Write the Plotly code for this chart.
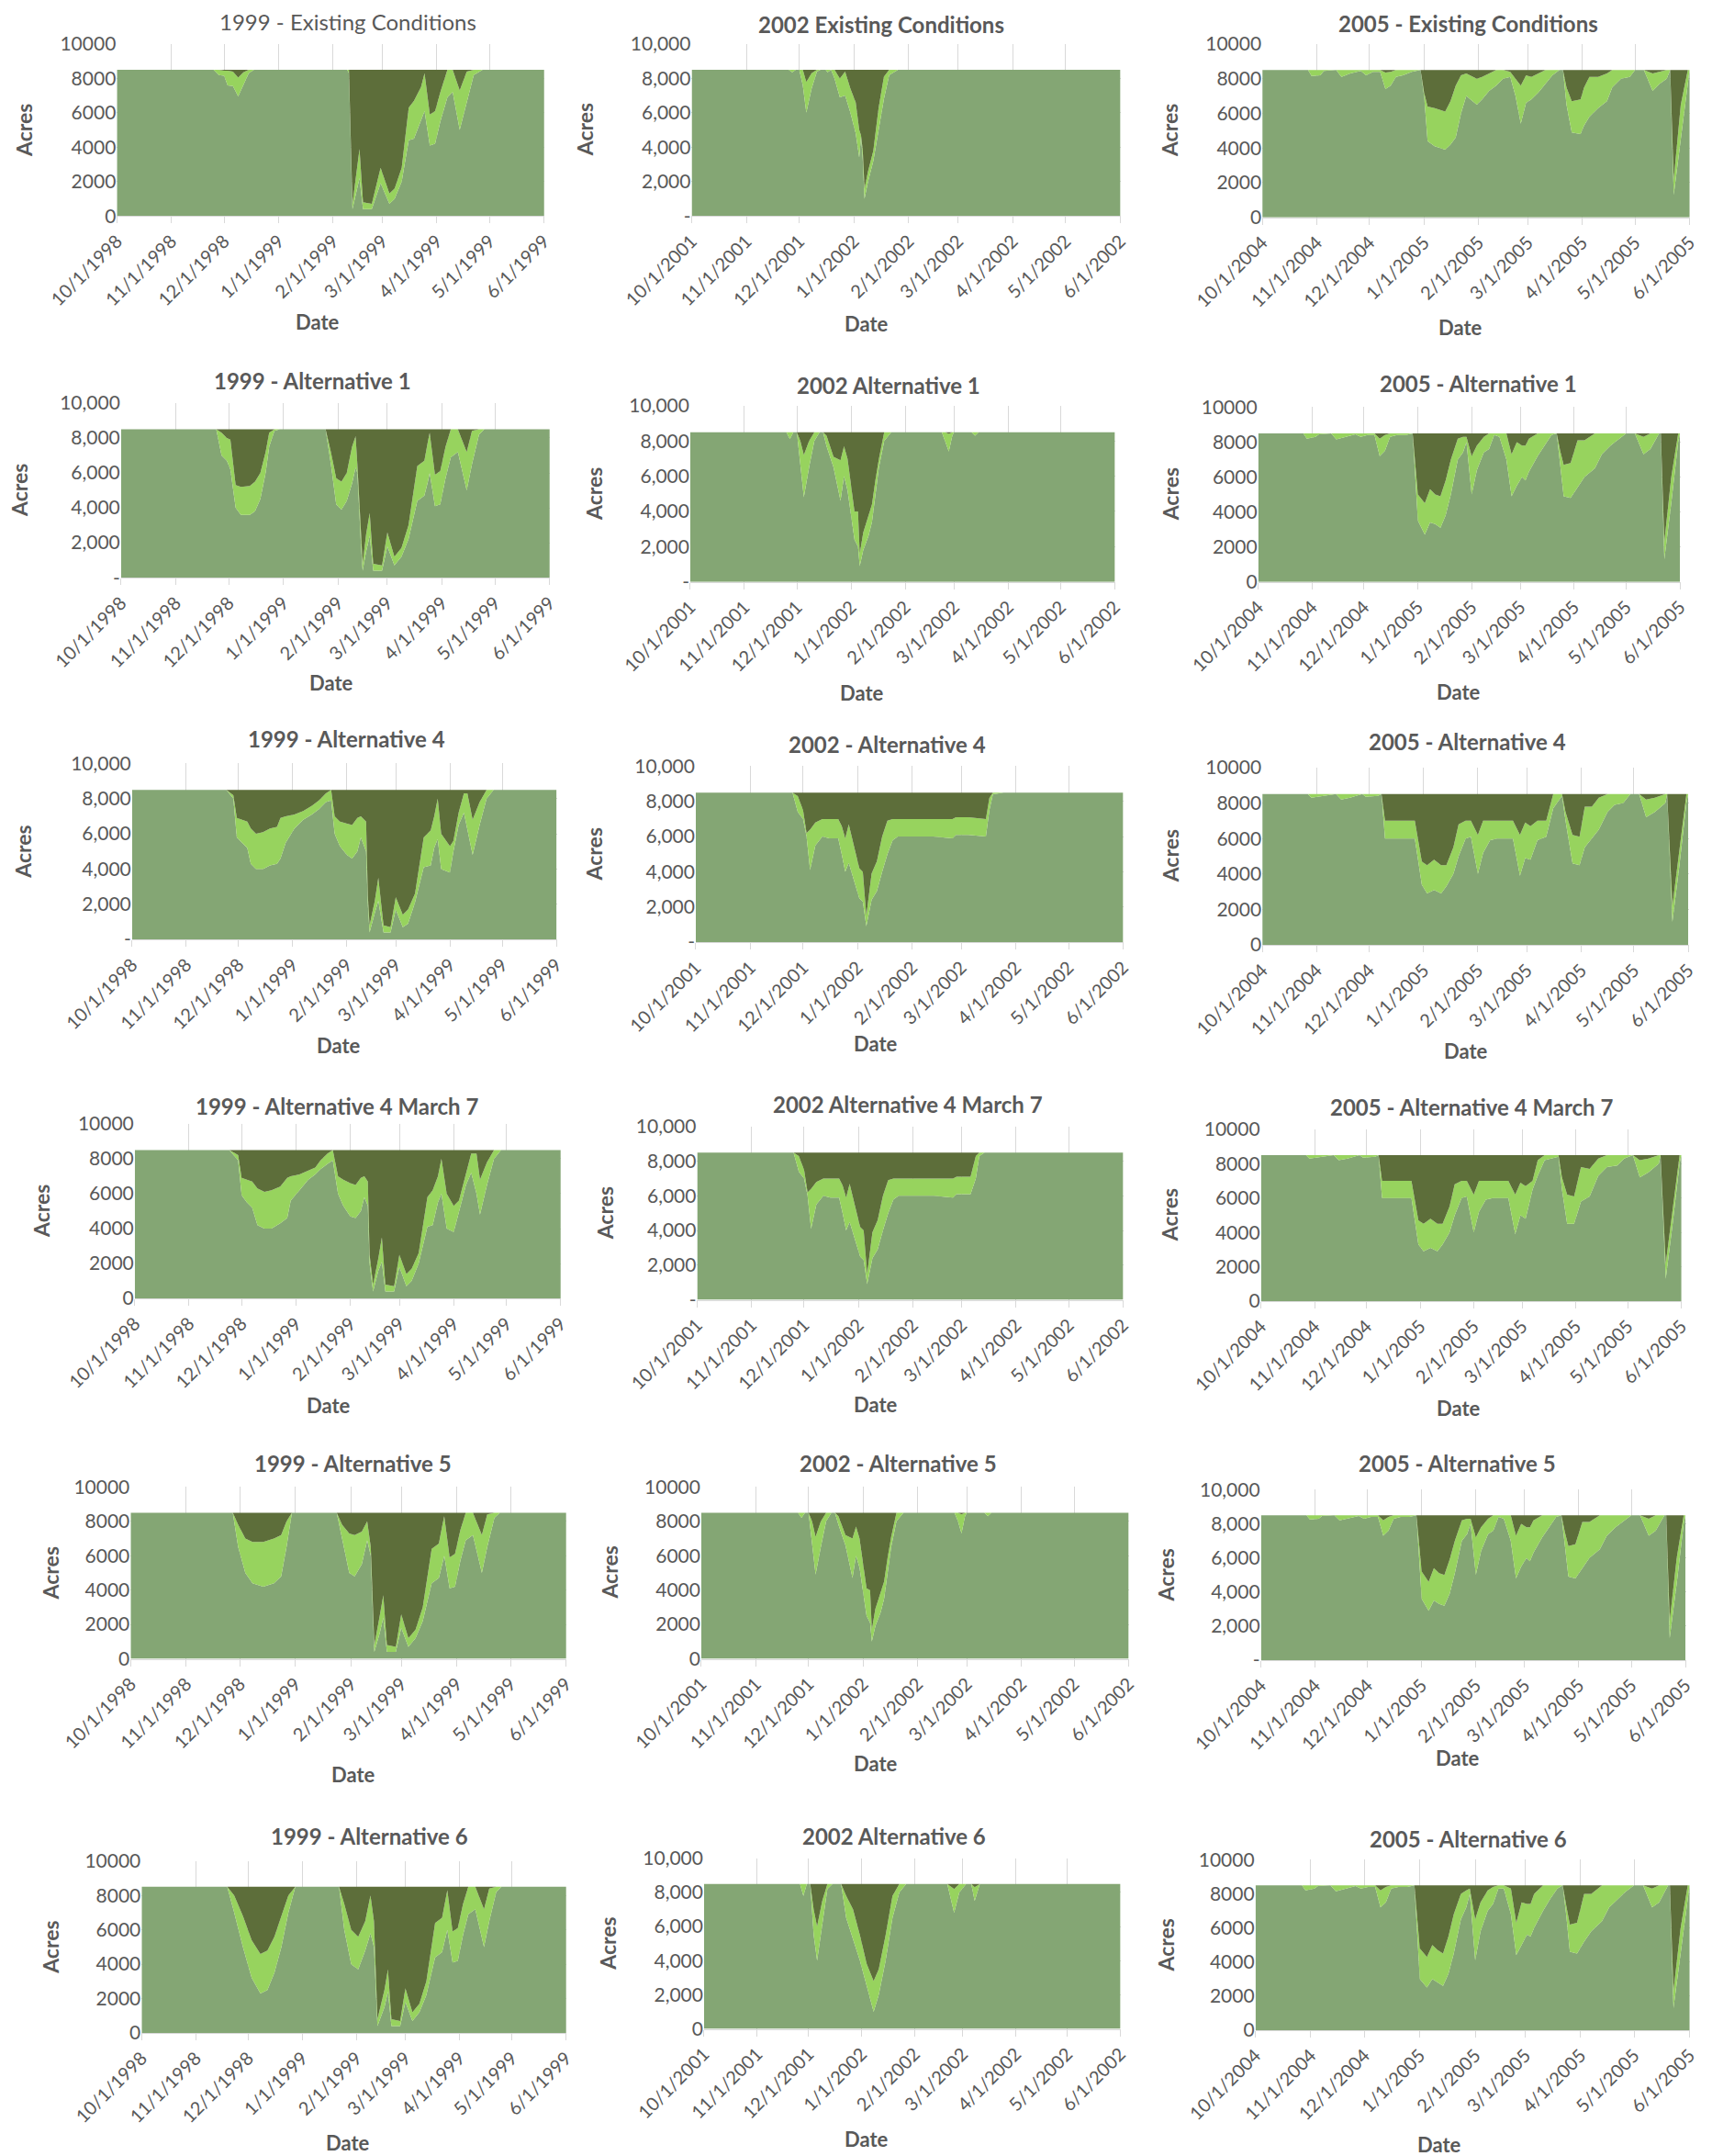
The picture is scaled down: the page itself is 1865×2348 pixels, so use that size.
import plotly.graph_objects as go

W, H = 1865, 2348
PAGE_MARGIN = 8  # default body margin of the html page
CAPACITY = 8500

BASE_COLOR = "#84a674"
LIGHT_COLOR = "#97d35e"
DARK_COLOR = "#5d6e3a"
TEXT_COLOR = "#595959"
GRID_COLOR = "#d9d9d9"
FONT = "Lato"

MONTH_TICKS = ["10-01", "11-01", "12-01", "01-01", "02-01", "03-01", "04-01", "05-01", "06-01"]
Y_TICKS = [0, 2000, 4000, 6000, 8000, 10000]
Y_TEXT_PLAIN = ["0", "2000", "4000", "6000", "8000", "10000"]
Y_TEXT_ACCT = ["-", "2,000", "4,000", "6,000", "8,000", "10,000"]
Y_TEXT_COMMA = ["0", "2,000", "4,000", "6,000", "8,000", "10,000"]

TITLES = [
    "1999 - Existing Conditions", "2002 Existing Conditions", "2005 - Existing Conditions",
    "1999 - Alternative 1", "2002 Alternative 1", "2005 - Alternative 1",
    "1999 - Alternative 4", "2002 - Alternative 4", "2005 - Alternative 4",
    "1999 - Alternative 4 March 7", "2002 Alternative 4 March 7", "2005 - Alternative 4 March 7",
    "1999 - Alternative 5", "2002 - Alternative 5", "2005 - Alternative 5",
    "1999 - Alternative 6", "2002 Alternative 6", "2005 - Alternative 6",
]
SEASON_START = [1998, 2001, 2004] * 6
Y_LABEL_STYLE = ["plain", "acct", "plain", "acct", "acct", "plain", "acct", "acct", "plain",
                 "plain", "acct", "plain", "plain", "plain", "acct", "plain", "comma", "plain"]

# ---------------- data (date = month-day within season, lower = top of base area, upper = top of light band)
P01_DATES = ["10-01","11-25","11-28","12-01","12-03","12-06","12-09","12-12","12-15","12-18","02-09","02-10","02-12","02-16","02-18","02-23","02-28","03-05","03-08","03-12","03-16","03-19","03-23","03-25","03-28","03-31","04-03","04-07","04-10","04-14","04-18","04-22","04-27","06-01"]
P01_LOWER = [8500,8500,8200,8150,7600,7550,6950,7600,8300,8500, 8500,8300,400,2200,400,400,1900,700,1000,2000, 4400,4500,5600,6100,4100,4200,5500,6900,7200,5000, 6600,8200,8500,8500]
P01_UPPER = [8500,8500,8500,8450,8450,8400,8050,8350,8500,8500, 8500,8500,700,3900,800,700,2800,1300,1600,2800, 6300,6700,7500,8300,5900,6100,7200,8500,8500,7300, 8400,8500,8500,8500]

P02_DATES = ["10-01","11-25","11-27","11-29","12-01","12-03","12-05","12-08","12-11","12-13","12-16","12-17","12-19","12-21","12-24","12-27","12-30","01-02","01-04","01-05","01-06","01-07","01-09","01-12","01-15","01-18","01-21","01-26","06-01"]
P02_LOWER = [8500,8500,8350,8500,8500,7600,6000,7400,8400,8500, 8500,8350,8500,8000,6900,7000,6000,4800,3400,4600, 3300,1000,2000,3200,5000,6800,8200,8500,8500]
P02_UPPER = [8500,8500,8500,8500,8500,8500,7800,8300,8500,8500, 8500,8500,8500,8500,8000,8400,7400,6600,5000,4700, 3800,1600,2600,3800,6300,8100,8500,8500,8500]

P03_DATES = ["10-01","10-27","10-29","11-03","11-05","11-12","11-15","11-20","11-26","11-29","12-03","12-07","12-10","12-13","12-16","12-20","12-25","12-30","01-01","01-03","01-07","01-10","01-13","01-16","01-19","01-22","01-25","01-31","02-03","02-07","02-11","02-15","02-19","02-22","02-25","02-28","03-03","03-07","03-11","03-15","03-19","03-21","03-23","03-26","03-31","04-02","04-05","04-10","04-15","04-18","04-23","04-28","05-01","05-06","05-11","05-15","05-19","05-21","05-23","05-27","05-31","06-01"]
P03_LOWER = [8500,8500,8150,8200,8450,8500,8100,8300,8450,8200, 8400,8400,7400,7600,8100,8200,8400,8500,7000,4400, 4100,4000,3900,4200,4600,6000,7000,6500,6800,7300, 7600,8000,8100,7000,5400,6600,6800,7200,7700,8200, 8500,8500,6500,4900,4800,5300,5800,6300,6700,7500, 8000,8100,8500,8500,7300,7700,8000,8500,1300,4500, 8000,8500]
P03_UPPER = [8500,8500,8500,8500,8500,8500,8500,8500,8500,8500, 8500,8500,8350,8400,8500,8500,8500,8500,7200,6400, 6300,6200,6100,6700,7600,8200,8300,8000,8100,8300, 8500,8500,8400,8000,7600,8200,8100,8300,8500,8500, 8500,8500,7500,6700,6800,7500,8100,8100,8300,8500, 8500,8500,8500,8500,8300,8400,8500,8500,2200,6500, 8500,8500]

P04_DATES = ["10-01","11-24","11-27","11-30","12-02","12-05","12-08","12-13","12-16","12-19","12-22","12-24","12-27","12-30","01-25","01-28","01-31","02-03","02-06","02-09","02-11","02-12","02-14","02-15","02-17","02-19","02-21","02-26","03-01","03-05","03-09","03-13","03-18","03-22","03-24","03-25","03-28","03-31","04-03","04-06","04-10","04-15","04-18","04-22","04-25","06-01"]
P04_LOWER = [8500,8500,7000,6700,6200,4000,3600,3600,3800,4500, 6000,7500,8400,8500,8500,6500,4200,3900,4400,5400, 6300,6000,2000,400,1500,2400,400,400,1800,700, 1200,2200,4400,4700,5500,6000,4100,4200,5700,6900, 7200,5000,6500,8200,8500,8500]
P04_UPPER = [8500,8500,8300,8000,7900,5300,5200,5250,5500,6000, 7200,8300,8500,8500,8500,7200,5700,5500,6000,7500, 8100,6500,2500,800,2500,3700,800,700,2600,1200, 1700,3000,6400,6700,7800,8300,5900,6100,7500,8500, 8500,7200,8400,8500,8500,8500]

P05_DATES = ["10-01","11-25","11-27","11-29","12-01","12-03","12-05","12-08","12-11","12-14","12-16","12-18","12-22","12-26","12-28","12-30","01-01","01-03","01-05","01-06","01-08","01-11","01-13","01-15","01-17","01-20","01-24","02-22","02-24","02-26","02-28","03-01","03-11","03-13","03-15","06-01"]
P05_LOWER = [8500,8500,8100,8500,8500,6500,4800,6500,8000,8500, 8500,7700,6500,4600,6000,5200,3700,2400,2000,900, 1800,2600,3400,5000,6500,8000,8500,8500,8000,7400, 8300,8500,8500,8300,8500,8500]
P05_UPPER = [8500,8500,8500,8500,8500,8000,7200,8000,8500,8500, 8500,8300,7100,6900,7700,7000,5500,4000,4000,1600, 2800,3800,4400,5800,7000,8500,8500,8500,8500,8400, 8500,8500,8500,8500,8500,8500]

P06_DATES = ["10-01","10-27","10-29","11-03","11-05","11-12","11-15","11-20","11-26","11-29","12-03","12-07","12-10","12-13","12-16","12-20","12-25","12-29","01-01","01-05","01-08","01-11","01-14","01-17","01-20","01-24","01-27","01-29","02-01","02-04","02-08","02-11","02-14","02-17","02-21","02-24","02-27","03-02","03-04","03-06","03-11","03-15","03-19","03-22","03-24","03-26","03-30","04-03","04-07","04-13","04-17","04-22","04-26","05-01","05-06","05-11","05-15","05-20","05-21","05-23","05-27","05-31","06-01"]
P06_LOWER = [8500,8500,8200,8300,8450,8500,8150,8300,8450,8300, 8400,8400,7200,7500,8300,8400,8400,8500,3500,2700, 3400,3300,3100,3800,5000,7000,7400,8000,5000,6400, 7400,7600,8400,8300,7000,4900,5500,6000,5800,6300, 7200,7800,8400,8500,6800,4900,4800,5400,6000,6500, 7300,7800,8100,8500,8500,7300,7600,8500,8500,1300, 4500,8000,8500]
P06_UPPER = [8500,8500,8500,8500,8500,8500,8500,8500,8500,8500, 8500,8500,8200,8400,8500,8500,8500,8500,5000,4500, 5300,5000,4900,5800,7000,8200,8300,8300,7200,7800, 8300,8500,8500,8500,8500,7300,8000,7800,7800,8200, 8500,8500,8500,8500,7500,6700,6800,8100,8100,8500, 8500,8500,8500,8500,8500,8300,8500,8500,8500,2300, 6000,8500,8500]

P07_DATES = ["10-01","11-24","11-28","11-30","12-03","12-06","12-08","12-11","12-15","12-19","12-23","12-25","12-28","01-02","01-07","01-12","01-16","01-20","01-23","01-25","01-28","02-01","02-04","02-07","02-09","02-12","02-13","02-14","02-17","02-19","02-22","02-26","03-01","03-05","03-08","03-12","03-17","03-21","03-23","03-25","03-27","04-01","04-03","04-06","04-09","04-11","04-14","04-18","04-22","04-26","06-01"]
P07_LOWER = [8500,8500,8000,5800,5500,5200,4300,4000,4000,4200, 4300,4600,5500,6300,6800,7100,7400,7800,7900,6000, 5300,4800,4600,5000,5800,5000,2000,400,1500,2200, 400,400,1700,700,900,2100,4100,4200,5200,5700, 4000,3800,5000,6500,7200,6300,4800,6500,8000,8500, 8500]
P07_UPPER = [8500,8500,8200,6900,6800,6700,6300,6000,6100,6300, 6400,6900,7000,7100,7300,7600,7900,8300,8500,7000, 6700,6600,6500,6900,7000,6700,2500,800,2200,3500, 800,700,2400,1400,1700,2600,5800,6200,7000,8000, 6000,5300,5600,7200,8300,8300,6800,7800,8500,8500, 8500]

P08_DATES = ["10-01","11-25","11-28","12-01","12-03","12-05","12-08","12-12","12-16","12-21","12-23","12-25","12-27","12-30","01-02","01-04","01-06","01-09","01-12","01-15","01-18","01-21","01-24","02-13","02-24","02-26","03-05","03-15","03-17","03-19","03-25","06-01"]
P08_LOWER = [8500,8500,7400,7000,6000,4100,5500,6000,5900,5900, 5000,4000,4500,3500,2500,2300,900,2400,2900,4000, 5000,5800,6000,6000,5900,6100,6100,6000,7500,8400, 8500,8500]
P08_UPPER = [8500,8500,8300,7500,6200,6400,6800,7000,7000,7000, 6600,5900,6700,5500,4200,4000,1500,3900,4600,6000, 6900,7000,7000,7000,7000,7100,7100,7000,8200,8500, 8500,8500]

P09_DATES = ["10-01","10-27","10-29","11-04","11-12","11-15","11-20","11-27","11-29","12-06","12-08","12-10","12-27","12-31","01-03","01-07","01-11","01-14","01-18","01-21","01-25","01-28","02-01","02-04","02-08","02-12","02-21","02-25","02-28","03-03","03-07","03-12","03-16","03-21","03-23","03-27","03-31","04-03","04-07","04-11","04-16","04-20","04-25","04-29","05-04","05-08","05-13","05-19","05-20","05-23","05-27","05-31","06-01"]
P09_LOWER = [8500,8500,8300,8400,8500,8200,8300,8500,8350,8400, 8500,6000,6000,3400,2900,3100,2900,3300,4000,5000, 6000,6100,4000,5200,5900,6000,6000,3900,4900,4800, 5900,6100,7700,8400,7000,4600,4500,5500,6000,6500, 7500,7900,8000,8500,8500,7200,7500,8000,8500,1300, 4500,8000,8500]
P09_UPPER = [8500,8500,8500,8500,8500,8500,8500,8500,8500,8500, 8500,7000,7000,4700,4500,4800,4500,4500,5500,6800, 7000,7000,6200,7000,7000,7000,7000,6200,6900,6700, 7000,7000,8500,8500,7500,6200,6100,7800,7800,8300, 8500,8500,8500,8500,8500,8200,8300,8500,8500,2200, 5500,8500,8500]

P10_DATES = ["10-01","11-24","11-29","12-01","12-04","12-07","12-10","12-14","12-18","12-23","12-27","12-29","01-03","01-08","01-12","01-15","01-19","01-22","01-25","01-28","02-01","02-04","02-07","02-09","02-11","02-12","02-14","02-17","02-19","02-21","02-26","03-01","03-05","03-08","03-12","03-17","03-20","03-23","03-25","03-28","04-01","04-04","04-08","04-11","04-14","04-16","04-20","04-24","04-28","06-01"]
P10_LOWER = [8500,8500,7900,5900,5500,5200,4200,4000,4000,4300, 4600,5600,6200,6800,7100,7400,7700,7900,6000,5300, 4700,4600,5000,5800,5300,2000,400,1600,2100,400, 400,1800,700,1000,2000,4100,4200,5500,6000,4000, 3800,5000,6500,7200,6000,4800,6500,8000,8500,8500]
P10_UPPER = [8500,8500,8200,6900,6800,6700,6300,6100,6200,6400, 6900,7000,7100,7300,7500,7900,8300,8500,7000,6800, 6600,6500,6900,7000,6700,2500,800,2300,3500,800, 700,2500,1400,1700,2600,5800,6200,7000,8000,6000, 5300,5600,7200,8300,8300,6800,7800,8500,8500,8500]

P11_DATES = ["10-01","11-25","11-28","12-01","12-03","12-05","12-08","12-12","12-16","12-21","12-23","12-25","12-27","12-30","01-02","01-04","01-06","01-09","01-12","01-15","01-18","01-21","01-24","02-13","02-24","02-26","03-06","03-09","03-11","03-14","03-20","06-01"]
P11_LOWER = [8500,8500,7400,7000,6000,4100,5500,6000,5900,5900, 5000,4000,4500,3500,2500,2300,900,2400,2900,4000, 5000,5800,6000,6000,5900,6100,6100,7000,8300,8500, 8500,8500]
P11_UPPER = [8500,8500,8300,7500,6200,6400,6800,7000,7000,7000, 6600,5900,6700,5500,4200,4000,1500,3900,4600,6000, 6900,7000,7000,7000,7000,7100,7100,8300,8500,8500, 8500,8500]

P12_DATES = ["10-01","10-27","10-29","11-04","11-12","11-15","11-20","11-27","11-29","12-06","12-08","12-10","12-27","12-31","01-03","01-07","01-11","01-14","01-18","01-21","01-25","01-28","02-01","02-04","02-08","02-12","02-21","02-25","02-28","03-03","03-07","03-10","03-14","03-22","03-24","03-27","03-31","04-04","04-09","04-14","04-19","04-25","04-29","05-04","05-08","05-13","05-19","05-20","05-23","05-27","05-31","06-01"]
P12_LOWER = [8500,8500,8300,8400,8500,8200,8300,8500,8350,8400, 8500,6000,6000,3300,2900,3100,2900,3300,4000,5000, 6000,6100,4000,5200,5900,6000,6000,3900,5000,4800, 6500,7300,8200,8400,6500,4500,4500,5800,6100,7300, 7800,7900,8300,8500,7200,7500,8000,8500,1300,4500, 8000,8500]
P12_UPPER = [8500,8500,8500,8500,8500,8500,8500,8500,8500,8500, 8500,7000,7000,4700,4500,4800,4500,4500,5500,6800, 7000,7000,6200,7000,7000,7000,7000,6200,6900,6700, 7000,8200,8500,8500,7200,6200,6100,7800,7700,8300, 8500,8500,8500,8500,8200,8300,8500,8500,2200,5500, 8500,8500]

P13_DATES = ["10-01","11-27","11-30","12-04","12-08","12-14","12-20","12-24","12-27","12-30","01-24","01-27","01-31","02-03","02-07","02-10","02-12","02-14","02-17","02-19","02-21","02-26","03-01","03-05","03-09","03-13","03-18","03-22","03-24","03-25","03-28","03-31","04-03","04-06","04-10","04-15","04-18","04-22","04-25","06-01"]
P13_LOWER = [8500,8500,6500,5000,4400,4200,4400,4800,6500,8500, 8500,7000,5000,4800,5500,6900,6000,400,1500,2400, 400,400,1800,700,1200,2200,4400,4700,5500,6000, 4100,4200,5700,6900,7200,5000,6500,8200,8500,8500]
P13_UPPER = [8500,8500,7800,7000,6800,6800,7000,7200,8000,8500, 8500,7800,7300,7200,7400,8000,6500,800,2500,3700, 800,700,2600,1200,1700,3000,6400,6700,7800,8300, 5900,6100,7500,8500,8500,7200,8400,8500,8500,8500]

P14_DATES = ["10-01","11-25","11-27","11-29","12-01","12-03","12-05","12-08","12-11","12-14","12-16","12-18","12-22","12-26","12-28","12-30","01-01","01-03","01-05","01-06","01-08","01-11","01-13","01-15","01-17","01-20","01-24","02-22","02-24","02-26","02-28","03-01","03-11","03-13","03-15","06-01"]
P14_LOWER = [8500,8500,8200,8500,8500,6600,4900,6500,8000,8500, 8500,7800,6600,4700,6000,5300,3800,2500,2100,1000, 1900,2700,3500,5000,6500,8000,8500,8500,8000,7300, 8300,8500,8500,8300,8500,8500]
P14_UPPER = [8500,8500,8500,8500,8500,8000,7100,8000,8500,8500, 8500,8300,7200,7000,7700,7000,5600,4100,4000,1700, 2900,3900,4500,5900,7100,8500,8500,8500,8500,8400, 8500,8500,8500,8500,8500,8500]

P15_DATES = P06_DATES
P15_LOWER = [8500,8500,8250,8300,8450,8500,8200,8300,8450,8300, 8400,8400,7300,7600,8300,8400,8400,8500,3600,2900, 3500,3300,3200,3900,5100,7000,7400,8000,5000,6400, 7400,7600,8400,8300,7000,4800,5500,6000,5800,6300, 7200,7800,8400,8500,6800,4900,4800,5400,6000,6500, 7300,7800,8100,8500,8500,7300,7600,8500,8500,1300, 4500,8000,8500]
P15_UPPER = [8500,8500,8500,8500,8500,8500,8500,8500,8500,8500, 8500,8500,8200,8400,8500,8500,8500,8500,5200,4600, 5400,5100,5000,5900,7000,8200,8300,8300,7200,7800, 8300,8500,8500,8500,8500,7300,8000,7800,7800,8200, 8500,8500,8500,8500,7500,6700,6800,8100,8100,8500, 8500,8500,8500,8500,8500,8300,8500,8500,8500,2300, 6000,8500,8500]

P16_DATES = ["10-01","11-19","11-23","11-28","12-03","12-08","12-12","12-16","12-20","12-24","12-28","01-22","01-25","01-29","02-02","02-06","02-09","02-11","02-13","02-17","02-19","02-21","02-26","03-01","03-05","03-09","03-13","03-18","03-22","03-24","03-25","03-28","03-31","04-03","04-06","04-10","04-15","04-18","04-22","04-25","06-01"]
P16_LOWER = [8500,8500,7000,5000,3200,2300,2500,3500,5000,7000, 8500,8500,6000,4000,3700,4800,5800,5000,400,1500, 2400,400,400,1800,700,1200,2200,4400,4700,5500, 6000,4100,4200,5700,6900,7200,5000,6500,8200,8500, 8500]
P16_UPPER = [8500,8500,8000,6800,5400,4600,4800,5600,6800,8000, 8500,8500,7500,6000,5600,6500,8000,6500,800,2500, 3700,800,700,2600,1200,1700,3000,6400,6700,7800, 8300,5900,6100,7500,8500,8500,7200,8400,8500,8500, 8500]

P17_DATES = ["10-01","11-26","11-28","11-30","12-02","12-04","12-06","12-09","12-12","12-15","12-20","12-23","12-27","12-31","01-04","01-08","01-11","01-15","01-19","01-23","01-27","02-20","02-24","02-27","03-03","03-06","03-08","03-11","06-01"]
P17_LOWER = [8500,8500,7800,8500,8500,5500,4000,6000,8200,8500, 8500,6500,5200,4000,2500,1000,2000,4000,6500,8000, 8500,8500,6800,8000,8500,8500,7500,8500,8500]
P17_UPPER = [8500,8500,8500,8500,8500,7000,6000,7500,8500,8500, 8500,7800,7000,5500,3800,2800,3500,5500,7800,8500, 8500,8500,8200,8500,8500,8500,8300,8500,8500]

P18_DATES = P06_DATES
P18_LOWER = [8500,8500,8200,8300,8450,8500,8150,8300,8450,8300, 8400,8400,7200,7500,8300,8400,8400,8500,3000,2500, 3000,2800,2600,3300,4500,6500,7200,8000,4100,5800, 7000,7400,8300,8300,6800,4400,5000,5600,5500,6000, 7000,7700,8300,8500,6700,4600,4500,5200,5800,6400, 7200,7700,8100,8500,8500,7200,7500,8500,8500,1300, 4500,8000,8500]
P18_UPPER = [8500,8500,8500,8500,8500,8500,8500,8500,8500,8500, 8500,8500,8200,8400,8500,8500,8500,8500,4800,4300, 5000,4700,4500,5500,6800,8000,8200,8300,6500,7500, 8200,8400,8500,8500,8300,6300,7500,7400,7400,8000, 8500,8500,8500,8500,7300,6200,6300,8000,8000,8500, 8500,8500,8500,8500,8500,8300,8500,8500,8500,2300, 6000,8500,8500]

PANEL_DATES = [P01_DATES, P02_DATES, P03_DATES, P04_DATES, P05_DATES, P06_DATES, P07_DATES, P08_DATES, P09_DATES,
               P10_DATES, P11_DATES, P12_DATES, P13_DATES, P14_DATES, P15_DATES, P16_DATES, P17_DATES, P18_DATES]
PANEL_LOWER = [P01_LOWER, P02_LOWER, P03_LOWER, P04_LOWER, P05_LOWER, P06_LOWER, P07_LOWER, P08_LOWER, P09_LOWER,
               P10_LOWER, P11_LOWER, P12_LOWER, P13_LOWER, P14_LOWER, P15_LOWER, P16_LOWER, P17_LOWER, P18_LOWER]
PANEL_UPPER = [P01_UPPER, P02_UPPER, P03_UPPER, P04_UPPER, P05_UPPER, P06_UPPER, P07_UPPER, P08_UPPER, P09_UPPER,
               P10_UPPER, P11_UPPER, P12_UPPER, P13_UPPER, P14_UPPER, P15_UPPER, P16_UPPER, P17_UPPER, P18_UPPER]

# ---------------- layout (positions measured on a 1245-wide view, scaled up)
S = W / 1245.0
BOXES = [  # x0, x1, y_top(10000), y_bottom(0)
    (85, 396, 32, 157), (503, 815, 32, 157), (918, 1229, 32, 158),
    (88, 400, 293, 420), (502, 811, 295, 423), (915, 1222, 296, 423),
    (96, 405, 555, 683), (506, 817, 557, 685), (918, 1228, 558, 687),
    (98, 408, 817, 944), (507, 817, 819, 945), (917, 1223, 821, 946),
    (95, 412, 1081, 1206), (510, 821, 1081, 1206), (917, 1226, 1083, 1207),
    (103, 412, 1353, 1478), (512, 815, 1351, 1475), (913, 1229, 1352, 1476),
]
TITLE_POS = [(253, 16), (641, 18), (1068, 17), (227, 277), (646, 280), (1075, 279),
             (252, 537), (645, 541), (1067, 539), (245, 804), (660, 803), (1070, 805),
             (257, 1064), (653, 1064), (1060, 1064), (269, 1335), (650, 1335), (1068, 1337)]
ACRES_X = [17, 425, 851, 14, 432, 851, 17, 432, 851, 30, 440, 851, 37, 443, 848, 37, 442, 848]
DATE_POS = [(231, 234), (630, 235), (1062, 238), (241, 496), (627, 504), (1061, 503),
            (246, 760), (637, 759), (1066, 764), (239, 1022), (637, 1021), (1061, 1024),
            (257, 1290), (637, 1282), (1060, 1278), (253, 1558), (630, 1555), (1047, 1559)]


def px_x(v):
    return (v * S - PAGE_MARGIN) / W


def px_y(v):
    return 1 - (v * S - PAGE_MARGIN) / H


def full_date(md, y0):
    m = int(md[:2])
    return f"{y0 if m >= 10 else y0 + 1}-{md}"


fig = go.Figure()
annotations = []
for i in range(18):
    k = i + 1
    sfx = "" if k == 1 else str(k)
    y0 = SEASON_START[i]
    xs = [full_date(d, y0) for d in PANEL_DATES[i]]
    x_start, x_end = full_date("10-01", y0), full_date("06-01", y0)
    common = dict(xaxis="x" + sfx, yaxis="y" + sfx, mode="lines", showlegend=False, hoverinfo="skip")
    fig.add_trace(go.Scatter(x=xs, y=PANEL_LOWER[i], fill="tozeroy", fillcolor=BASE_COLOR,
                             line=dict(width=0, color=BASE_COLOR), **common))
    fig.add_trace(go.Scatter(x=xs, y=PANEL_UPPER[i], fill="tonexty", fillcolor=LIGHT_COLOR,
                             line=dict(width=0, color=LIGHT_COLOR), **common))
    fig.add_trace(go.Scatter(x=[x_start, x_end], y=[CAPACITY, CAPACITY], fill="tonexty", fillcolor=DARK_COLOR,
                             line=dict(width=0, color=DARK_COLOR), **common))

    bx0, bx1, byt, byb = BOXES[i]
    style = Y_LABEL_STYLE[i]
    ytext = Y_TEXT_PLAIN if style == "plain" else (Y_TEXT_ACCT if style == "acct" else Y_TEXT_COMMA)
    fig.layout["xaxis" + sfx] = dict(
        domain=[px_x(bx0), px_x(bx1)], anchor="y" + sfx, type="date", automargin=False,
        range=[x_start, full_date("06-01", y0) + " 06:00"],
        tickvals=[full_date(m, y0) for m in MONTH_TICKS], tickformat="%-m/%-d/%Y", tickangle=-45,
        tickfont=dict(family=FONT, size=20, color=TEXT_COLOR),
        showgrid=True, gridcolor=GRID_COLOR, gridwidth=1,
        showline=True, linecolor=GRID_COLOR, linewidth=1,
        ticks="outside", ticklen=7, tickcolor=GRID_COLOR, zeroline=False, fixedrange=True,
    )
    fig.layout["yaxis" + sfx] = dict(
        domain=[px_y(byb), px_y(byt)], anchor="x" + sfx, range=[0, 10000], automargin=False,
        tickvals=Y_TICKS, ticktext=ytext, tickfont=dict(family=FONT, size=21, color=TEXT_COLOR),
        showgrid=True, gridcolor=GRID_COLOR, gridwidth=1, zeroline=False, showline=False,
        ticks="", fixedrange=True,
    )
    tx, ty = TITLE_POS[i]
    title_txt = TITLES[i] if i == 0 else f"<b>{TITLES[i]}</b>"
    annotations.append(dict(text=title_txt, x=px_x(tx), y=px_y(ty), xref="paper", yref="paper",
                            xanchor="center", yanchor="middle", showarrow=False,
                            font=dict(family=FONT, size=24, color=TEXT_COLOR)))
    annotations.append(dict(text="<b>Acres</b>", x=px_x(ACRES_X[i]), y=px_y((byt + byb) / 2),
                            xref="paper", yref="paper", xanchor="center", yanchor="middle", textangle=-90,
                            showarrow=False, font=dict(family=FONT, size=23, color=TEXT_COLOR)))
    dx, dy = DATE_POS[i]
    annotations.append(dict(text="<b>Date</b>", x=px_x(dx), y=px_y(dy), xref="paper", yref="paper",
                            xanchor="center", yanchor="middle", showarrow=False,
                            font=dict(family=FONT, size=22, color=TEXT_COLOR)))

fig.update_layout(
    width=W, height=H, margin=dict(l=0, r=0, t=0, b=0, autoexpand=False),
    paper_bgcolor="white", plot_bgcolor="white",
    annotations=annotations, hovermode=False, showlegend=False,
    font=dict(family=FONT, color=TEXT_COLOR),
)
fig.write_html("out.html")
